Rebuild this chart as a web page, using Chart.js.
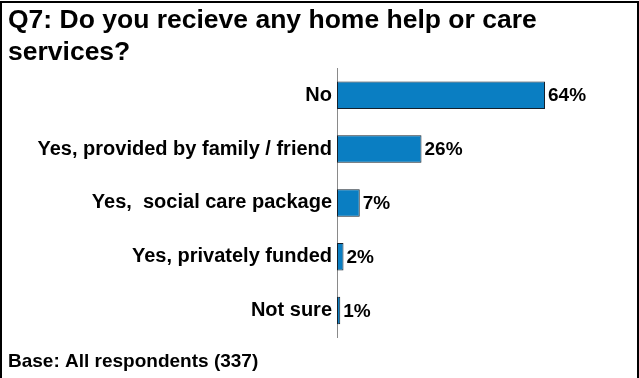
<!DOCTYPE html>
<html>
<head>
<meta charset="utf-8">
<script src="https://cdn.jsdelivr.net/npm/chart.js@4/dist/chart.umd.min.js"></script>
<style>
  html, body { margin: 0; padding: 0; background: #fff; overflow: hidden; }
  #wrap {
    position: absolute; left: 0; top: 1px;
    width: 635px; height: 375px;
    border: 2px solid #000;
    background: #fff;
  }
</style>
</head>
<body>
<div id="wrap"><canvas id="plot"></canvas></div>
<script>
const titleLines = ['Q7: Do you recieve any home help or care', 'services?'];
const baseNote = 'Base: All respondents (337)';
const answers = [
    'No',
    'Yes, provided by family / friend',
    'Yes,  social care package',
    'Yes, privately funded',
    'Not sure'
];
const percents = [64, 26, 7, 2, 1];

const FONT = '"Liberation Sans", Arial, Helvetica, sans-serif';

// writes "NN%" just past the end of each bar
const valueLabels = {
    id: 'valueLabels',
    afterDatasetsDraw(chart) {
        const ctx = chart.ctx;
        const meta = chart.getDatasetMeta(0);
        ctx.save();
        ctx.font = 'bold 19px ' + FONT;
        ctx.fillStyle = '#000';
        ctx.textAlign = 'left';
        ctx.textBaseline = 'middle';
        meta.data.forEach((bar, i) => {
            ctx.fillText(percents[i] + '%', bar.x + 3, bar.y + 1);
        });
        ctx.restore();
    }
};

const axisLeft = 335;
const padLeft = 6;

new Chart(document.getElementById('plot'), {
    type: 'bar',
    data: {
        labels: answers,
        datasets: [{
            data: percents,
            backgroundColor: '#0A7EC2',
            borderColor: '#14202C',
            borderWidth: 1,
            borderSkipped: false,
            barPercentage: 0.51,
            categoryPercentage: 1.0
        }]
    },
    options: {
        indexAxis: 'y',
        responsive: true,
        maintainAspectRatio: false,
        animation: false,
        layout: { padding: { left: padLeft, right: 40, top: 0, bottom: 0 } },
        plugins: {
            legend: { display: false },
            tooltip: { enabled: false },
            title: {
                display: true,
                text: titleLines,
                align: 'start',
                color: '#000',
                font: { family: FONT, size: 26.5, weight: 'bold', lineHeight: 1.2 },
                padding: { top: 1.7, bottom: 0 }
            },
            subtitle: {
                display: true,
                position: 'bottom',
                text: baseNote,
                align: 'start',
                color: '#000',
                font: { family: FONT, size: 19, weight: 'bold', lineHeight: 1.25 },
                padding: { top: 12, bottom: 4.75 }
            }
        },
        scales: {
            x: {
                display: false,
                min: 0,
                max: 80
            },
            y: {
                afterFit(scale) { scale.width = axisLeft - padLeft; },
                grid: { display: false, drawTicks: false },
                border: { display: true, color: '#8A8A8A', width: 1 },
                ticks: {
                    color: '#000',
                    padding: 5,
                    font: { family: FONT, size: 20, weight: 'bold' }
                }
            }
        }
    },
    plugins: [valueLabels]
});
</script>
</body>
</html>
